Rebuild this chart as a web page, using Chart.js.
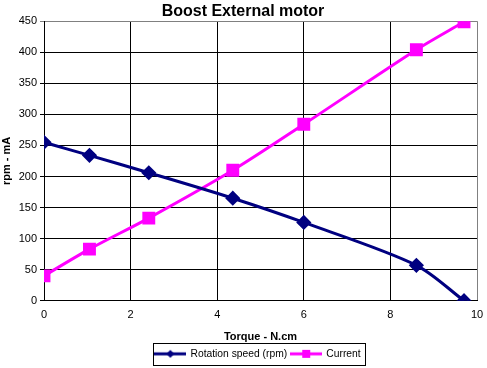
<!DOCTYPE html>
<html>
<head>
<meta charset="utf-8">
<script src="https://cdn.jsdelivr.net/npm/chart.js@4/dist/chart.umd.min.js"></script>
<style>
html,body{margin:0;padding:0;background:#fff;}
#wrap{width:487px;height:368px;position:relative;}
</style>
</head>
<body>
<div id="wrap"><canvas id="c" width="487" height="368"></canvas></div>
<script>
const torque = [0, 1.05, 2.42, 4.36, 6.0, 8.6, 9.7];
const rotationSpeed = [255, 234, 206, 165, 126, 57, 0];
const current = [40, 83, 133, 210, 284, 404, 449];
const seriesNames = ['Rotation speed (rpm)', 'Current'];
const xTicks = [0, 2, 4, 6, 8, 10];
const yTicks = [0, 50, 100, 150, 200, 250, 300, 350, 400, 450];

const FONT = "'Liberation Sans', Arial, sans-serif";
Chart.defaults.font.family = FONT;
Chart.defaults.color = '#000';

function legendIcon(color, style) {
  const cv = document.createElement('canvas');
  cv.width = 32; cv.height = 10;
  const g = cv.getContext('2d');
  g.strokeStyle = color; g.lineWidth = 3;
  g.beginPath(); g.moveTo(0, 5); g.lineTo(32, 5); g.stroke();
  g.fillStyle = color;
  if (style === 'diamond') {
    g.beginPath(); g.moveTo(16, 1); g.lineTo(20, 5); g.lineTo(16, 9); g.lineTo(12, 5); g.closePath(); g.fill();
  } else {
    g.fillRect(12, 1, 8, 8);
  }
  return cv;
}
const icons = [legendIcon('#000080', 'diamond'), legendIcon('#FF00FF', 'square')];

const legendTweak = {
  id: 'legendTweak',
  afterLayout(chart) {
    const lg = chart.legend, ca = chart.chartArea;
    if (!lg || !ca) return;
    const dx = (ca.left + ca.right) / 2 - (lg.left + lg.right) / 2 - 2.5;
    lg.left += dx; lg.right += dx;
    lg.top += 1; lg.bottom += 1;
  },
  afterDraw(chart) {
    const boxes = chart.legend && chart.legend.legendHitBoxes;
    if (!boxes || !boxes.length) return;
    let l = Infinity, r = -Infinity, t = Infinity, b = -Infinity;
    boxes.forEach(h => { l = Math.min(l, h.left); r = Math.max(r, h.left + h.width); t = Math.min(t, h.top); b = Math.max(b, h.top + h.height); });
    const ctx = chart.ctx;
    ctx.save();
    ctx.strokeStyle = '#000'; ctx.lineWidth = 1;
    ctx.strokeRect(Math.round(l - 2) + 0.5, Math.round(t - 6) + 0.5, Math.round(r - l + 7), Math.round(b - t + 12));
    ctx.restore();
  }
};

new Chart(document.getElementById('c'), {
  type: 'line',
  data: {
    datasets: [
      {
        label: seriesNames[0],
        data: torque.map((x, i) => ({ x: x, y: rotationSpeed[i] })),
        borderColor: '#000080', backgroundColor: '#000080',
        borderWidth: 3, pointStyle: 'rectRot', pointRadius: 5.5, pointHoverRadius: 5.5,
        tension: 0.3, fill: false
      },
      {
        label: seriesNames[1],
        data: torque.map((x, i) => ({ x: x, y: current[i] })),
        borderColor: '#FF00FF', backgroundColor: '#FF00FF',
        borderWidth: 3, pointStyle: 'rect', pointRadius: 7, pointHoverRadius: 7,
        tension: 0.3, fill: false
      }
    ]
  },
  options: {
    responsive: false,
    animation: false,
    events: [],
    layout: { padding: { left: 0, right: 1, top: 0, bottom: 0 } },
    plugins: {
      title: {
        display: true, text: 'Boost External motor',
        font: { size: 16, weight: 'bold' }, color: '#000',
        padding: { top: 2, bottom: 0 }
      },
      legend: {
        position: 'bottom',
        labels: {
          font: { size: 10.3 }, color: '#000', padding: 4,
          usePointStyle: true, pointStyleWidth: 30, boxHeight: 10,
          generateLabels(chart) {
            return chart.data.datasets.map((ds, i) => ({
              text: ds.label, pointStyle: icons[i], fillStyle: ds.borderColor,
              strokeStyle: ds.borderColor, lineWidth: 0, datasetIndex: i, hidden: false
            }));
          }
        }
      },
      tooltip: { enabled: false }
    },
    scales: {
      x: {
        type: 'linear', min: 0, max: 10,
        afterBuildTicks(s) { s.ticks = xTicks.map(v => ({ value: v })); },
        afterFit(s) { s.height = 43; },
        ticks: { font: { size: 11 }, color: '#000', padding: 0, maxRotation: 0 },
        grid: {
          color: ctx => ctx.tick && ctx.tick.value === 10 ? '#808080' : '#000',
          lineWidth: 1, tickLength: 8, tickColor: 'rgba(0,0,0,0)', drawTicks: true
        },
        border: { color: '#000', width: 1 },
        title: { display: true, text: 'Torque - N.cm', font: { size: 11, weight: 'bold' }, color: '#000', padding: { top: 7, bottom: 0 } }
      },
      y: {
        min: 0, max: 450,
        afterBuildTicks(s) { s.ticks = yTicks.map(v => ({ value: v })); },
        afterFit(s) { s.width = 44; },
        ticks: { font: { size: 11 }, color: '#000', padding: 3 },
        grid: {
          color: ctx => ctx.tick && ctx.tick.value === 450 ? '#808080' : '#000',
          lineWidth: 1, tickLength: 4
        },
        border: { color: '#000', width: 1 },
        title: { display: true, text: 'rpm - mA', font: { size: 11, weight: 'bold' }, color: '#000', padding: 0 }
      }
    }
  },
  plugins: [legendTweak]
});
</script>
</body>
</html>
